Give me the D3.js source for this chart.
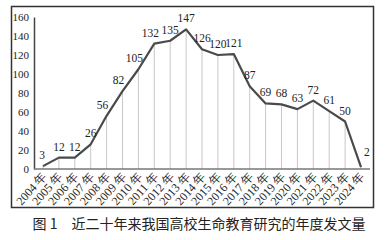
<!DOCTYPE html>
<html>
<head>
<meta charset="utf-8">
<script src="https://cdn.jsdelivr.net/npm/d3@7"></script>
<style>
  body { margin: 0; background: #fff; }
  svg { display: block; }
</style>
</head>
<body>
<div id="chart"></div>
<script>
var years = ["2004", "2005", "2006", "2007", "2008", "2009", "2010", "2011", "2012", "2013", "2014",
             "2015", "2016", "2017", "2018", "2019", "2020", "2021", "2022", "2023", "2024"];
var counts = [3, 12, 12, 26, 56, 82, 105, 132, 135, 147, 126, 120, 121, 87, 69, 68, 63, 72, 61, 50, 2];
var yTicks = [0, 20, 40, 60, 80, 100, 120, 140, 160];
var caption = "图 1\u3000近二十年来我国高校生命教育研究的年度发文量";

var w = 391, h = 240;
var serif = "'Liberation Serif', 'DejaVu Serif', serif";

var svg = d3.select("#chart").append("svg")
    .attr("width", w)
    .attr("height", h);

// outer frame
svg.append("rect")
    .attr("x", 11.5).attr("y", 6.5)
    .attr("width", 362).attr("height", 201)
    .attr("fill", "none")
    .attr("stroke", "#333")
    .attr("stroke-width", 1.5);

var x = d3.scalePoint().domain(years).range([43, 361]);
var y = d3.scaleLinear().domain([0, 160]).range([169, 17]);

// drop lines
svg.append("g").selectAll("line")
    .data(years)
    .enter().append("line")
    .attr("x1", function (d) { return x(d); })
    .attr("x2", function (d) { return x(d); })
    .attr("y1", function (d, i) { return y(counts[i]); })
    .attr("y2", y(0))
    .attr("stroke", "#c8c8c8")
    .attr("stroke-width", 1);

// y axis
var yAxis = svg.append("g")
    .attr("transform", "translate(34,0)")
    .call(d3.axisLeft(y).tickValues(yTicks).tickSize(0).tickPadding(5));
yAxis.select(".domain").attr("stroke", "#444").attr("stroke-width", 1.5);
yAxis.selectAll("text")
    .attr("font-family", serif)
    .attr("font-size", 11)
    .attr("fill", "#222");

// x axis
var xAxis = svg.append("g")
    .attr("transform", "translate(0," + y(0) + ")")
    .call(d3.axisBottom(x).tickSize(0).tickPadding(0).tickFormat(function (d) { return d + " 年"; }));
xAxis.select(".domain")
    .attr("d", "M34,0H370")
    .attr("stroke", "#777")
    .attr("stroke-width", 1.5);
xAxis.selectAll("text")
    .attr("font-family", serif)
    .attr("font-size", 12)
    .attr("fill", "#222")
    .attr("text-anchor", "end")
    .attr("dy", 0)
    .attr("transform", "translate(4,8) rotate(-48)");

// line
var line = d3.line()
    .x(function (d, i) { return x(years[i]); })
    .y(function (d) { return y(d); });

svg.append("path")
    .datum(counts)
    .attr("d", line)
    .attr("fill", "none")
    .attr("stroke", "#4a4a4a")
    .attr("stroke-width", 2.2)
    .attr("stroke-linejoin", "round");

// value labels
svg.append("g").selectAll("text")
    .data(counts)
    .enter().append("text")
    .attr("x", function (d, i) {
        var dx = 0;
        if (i === 0) dx = -1;
        if (i >= 4 && i <= 7) dx = -4;
        if (i === 20) dx = 3;
        return x(years[i]) + dx;
    })
    .attr("y", function (d, i) {
        if (i === 20) return y(d) - 11;
        return y(d) - 7;
    })
    .attr("text-anchor", function (d, i) { return i === 20 ? "start" : "middle"; })
    .attr("font-family", serif)
    .attr("font-size", 11.5)
    .attr("fill", "#222")
    .text(function (d) { return d; });

// caption
svg.append("text")
    .attr("x", 199)
    .attr("y", 229)
    .attr("text-anchor", "middle")
    .attr("font-family", "'Noto Sans CJK SC', sans-serif")
    .attr("font-size", 14)
    .attr("font-weight", 400)
    .attr("fill", "#222")
    .text(caption);
</script>
</body>
</html>
